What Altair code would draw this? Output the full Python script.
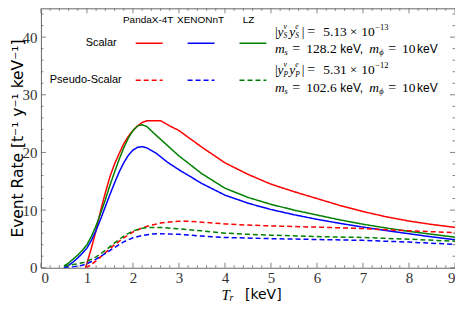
import altair as alt
import pandas as pd

# ---------------- data ----------------
detectors = ["PandaX-4T", "XENONnT", "LZ"]
couplings = ["Scalar", "Pseudo-Scalar"]

pandax_s_x = [0.97, 1.0, 1.1, 1.2, 1.3, 1.4, 1.5, 1.6, 1.7, 1.8, 1.9, 2.0, 2.1, 2.2, 2.3, 2.6, 2.8, 3.0, 3.5, 4.0, 4.5, 5.0, 5.5, 6.0, 6.5, 7.0, 7.5, 8.0, 8.5, 9.0]
pandax_s_y = [0.0, 0.8, 3.5, 6.5, 10.0, 13.0, 15.8, 18.0, 19.8, 21.5, 22.8, 23.8, 24.6, 25.2, 25.5, 25.5, 24.6, 23.8, 20.9, 18.2, 16.2, 14.5, 13.2, 12.0, 10.8, 9.75, 8.85, 8.1, 7.5, 7.0]

xenon_s_x = [0.5, 0.6, 0.7, 0.8, 0.9, 1.0, 1.1, 1.2, 1.3, 1.4, 1.5, 1.6, 1.7, 1.8, 1.9, 2.0, 2.1, 2.2, 2.3, 2.5, 2.75, 3.0, 3.5, 4.0, 4.5, 5.0, 5.5, 6.0, 6.5, 7.0, 7.5, 8.0, 8.5, 9.0]
xenon_s_y = [0.0, 0.4, 1.0, 1.7, 2.5, 3.4, 4.8, 6.5, 8.5, 10.6, 12.7, 14.7, 16.6, 18.2, 19.5, 20.4, 20.9, 21.0, 20.8, 19.9, 18.3, 17.0, 14.6, 12.6, 11.2, 10.1, 9.2, 8.4, 7.7, 7.05, 6.45, 5.9, 5.35, 4.85]

lz_s_x = [0.5, 0.6, 0.7, 0.8, 0.9, 1.0, 1.1, 1.2, 1.3, 1.4, 1.5, 1.6, 1.7, 1.8, 1.9, 2.0, 2.1, 2.2, 2.3, 2.5, 2.75, 3.0, 3.5, 4.0, 4.5, 5.0, 5.5, 6.0, 6.5, 7.0, 7.5, 8.0, 8.5, 9.0]
lz_s_y = [0.3, 0.8, 1.5, 2.2, 3.0, 4.0, 5.5, 7.3, 9.5, 11.8, 14.3, 16.6, 18.8, 20.8, 22.5, 23.8, 24.6, 24.8, 24.5, 23.0, 21.2, 19.4, 16.3, 13.8, 12.2, 11.0, 10.0, 9.15, 8.3, 7.55, 6.9, 6.3, 5.8, 5.3]

pandax_p_x = [0.97, 1.05, 1.2, 1.4, 1.6, 1.8, 2.0, 2.2, 2.4, 2.6, 2.8, 3.0, 3.2, 3.5, 4.0, 4.5, 5.0, 5.5, 6.0, 7.0, 8.0, 9.0]
pandax_p_y = [0.0, 0.3, 1.2, 2.6, 4.0, 5.2, 6.2, 6.9, 7.4, 7.75, 7.95, 8.05, 8.05, 7.9, 7.6, 7.4, 7.25, 7.15, 7.05, 6.8, 6.4, 6.1]

xenon_p_x = [0.5, 0.7, 0.9, 1.0, 1.2, 1.4, 1.6, 1.8, 2.0, 2.2, 2.4, 2.6, 3.0, 3.5, 4.0, 5.0, 6.0, 7.0, 8.0, 9.0]
xenon_p_y = [0.0, 0.15, 0.45, 0.7, 1.5, 2.5, 3.5, 4.5, 5.2, 5.6, 5.85, 5.9, 5.8, 5.5, 5.25, 5.05, 4.9, 4.75, 4.45, 4.05]

lz_p_x = [0.5, 0.7, 0.9, 1.0, 1.2, 1.4, 1.6, 1.8, 2.0, 2.2, 2.4, 2.6, 3.0, 3.5, 4.0, 4.5, 5.0, 6.0, 7.0, 8.0, 9.0]
lz_p_y = [0.3, 0.55, 0.85, 1.1, 1.9, 3.0, 4.3, 5.5, 6.4, 6.85, 7.0, 7.0, 6.75, 6.4, 6.0, 5.8, 5.65, 5.4, 5.25, 4.95, 4.6]

x_major = [0, 1, 2, 3, 4, 5, 6, 7, 8, 9]
y_major = [0, 10, 20, 30, 40]

# ---------------- build table ----------------
series = [
    ("PandaX-4T", "Scalar", pandax_s_x, pandax_s_y),
    ("XENONnT", "Scalar", xenon_s_x, xenon_s_y),
    ("LZ", "Scalar", lz_s_x, lz_s_y),
    ("PandaX-4T", "Pseudo-Scalar", pandax_p_x, pandax_p_y),
    ("XENONnT", "Pseudo-Scalar", xenon_p_x, xenon_p_y),
    ("LZ", "Pseudo-Scalar", lz_p_x, lz_p_y),
]
rows = []
for det, cp, xs_, ys_ in series:
    for xv, yv in zip(xs_, ys_):
        rows.append({"x": xv, "y": yv, "det": det, "cp": cp, "key": det + cp})
df = pd.DataFrame(rows)

x_minor = [round(i * 0.2, 1) for i in range(46) if (i % 5) != 0]
y_minor = [i * 2 for i in range(23) if (i * 2) % 10 != 0]

W, H = 415, 260
PL = 41  # plot left on page
PT = 8   # plot top on page

colors = ["#ff0000", "#0000ff", "#008000"]
dash = [[1, 0], [5, 3]]
FRAME = "#666666"

xs = alt.Scale(domain=[0, 9], nice=False, zero=False)
ys = alt.Scale(domain=[0, 45], nice=False, zero=False)

lines = alt.Chart(df).mark_line(strokeWidth=1.5, clip=True).encode(
    x=alt.X("x:Q", scale=xs, axis=alt.Axis(values=x_major, ticks=False, domain=False, grid=False,
                                            title=None, labelFont="Liberation Serif", labelFontSize=15,
                                            labelColor="#333333", labelPadding=3, format="d")),
    y=alt.Y("y:Q", scale=ys, axis=alt.Axis(values=y_major, ticks=False, domain=False, grid=False,
                                            title="Event Rate [t⁻¹ y⁻¹ keV⁻¹]",
                                            titleFont="DejaVu Sans", titleFontSize=15.5,
                                            titleFontWeight="normal", titleColor="#000000",
                                            titleX=-23, titleY=H / 2, titleAngle=270,
                                            titleAlign="center", titleBaseline="middle",
                                            labelFont="Liberation Serif", labelFontSize=15,
                                            labelColor="#333333", labelPadding=4, format="d")),
    color=alt.Color("det:N", scale=alt.Scale(domain=detectors, range=colors), legend=None),
    strokeDash=alt.StrokeDash("cp:N", scale=alt.Scale(domain=couplings, range=dash), legend=None),
    detail="key:N",
)

layers = [lines]


def xticks(vals, length):
    d = pd.DataFrame({"t": vals})
    b = alt.Chart(d).mark_rule(color=FRAME, strokeWidth=0.8).encode(
        x=alt.X("t:Q", scale=xs), y=alt.value(H), y2=alt.value(H - length))
    t = alt.Chart(d).mark_rule(color=FRAME, strokeWidth=0.8).encode(
        x=alt.X("t:Q", scale=xs), y=alt.value(0), y2=alt.value(length))
    return [b, t]


def yticks(vals, length):
    d = pd.DataFrame({"t": vals})
    l = alt.Chart(d).mark_rule(color=FRAME, strokeWidth=0.8).encode(
        y=alt.Y("t:Q", scale=ys), x=alt.value(0), x2=alt.value(length))
    r = alt.Chart(d).mark_rule(color=FRAME, strokeWidth=0.8).encode(
        y=alt.Y("t:Q", scale=ys), x=alt.value(W), x2=alt.value(W - length))
    return [l, r]


layers += xticks(x_major, 5) + xticks(x_minor, 2.5) + yticks(y_major, 5) + yticks(y_minor, 2.5)


def txt(s, x_abs, y_abs, size=13.5, font="Liberation Serif", style="normal", align="left", color="#000000"):
    return alt.Chart(pd.DataFrame({"s": [s]})).mark_text(
        font=font, fontSize=size, fontStyle=style, align=align, baseline="middle", color=color
    ).encode(text="s:N", x=alt.value(x_abs - PL), y=alt.value(y_abs - PT))


def seg(x1, x2, y_abs, color, dashed):
    kw = {"strokeDash": [5, 3]} if dashed else {}
    return alt.Chart(pd.DataFrame({"a": [0]})).mark_rule(color=color, strokeWidth=1.5, **kw).encode(
        x=alt.value(x1 - PL), x2=alt.value(x2 - PL), y=alt.value(y_abs - PT))


SANS = "Liberation Sans"
# legend header
layers += [
    txt("PandaX-4T", 148.5, 20, size=10, font=SANS, align="center"),
    txt("XENONnT", 201, 20, size=10, font=SANS, align="center"),
    txt("LZ", 249, 20, size=10, font=SANS, align="center"),
    txt("Scalar", 117, 43, size=11, font=SANS, align="right"),
    txt("Pseudo-Scalar", 122, 80, size=11, font=SANS, align="right"),
]
seg_x = [(136, 163), (188, 215), (240, 267)]
for (a, b), c in zip(seg_x, colors):
    layers.append(seg(a, b, 43, c, False))
    layers.append(seg(a, b, 80, c, True))


def coupling_line(y, sub, value, exp):
    return [
        txt("|", 275.5, y),
        txt("y", 278, y, style="italic"),
        txt("ν", 284, y - 5, size=7.5, style="italic"),
        txt(sub, 284, y + 4.5, size=7.5, style="italic"),
        txt("y", 290, y, style="italic"),
        txt("e", 296, y - 5, size=7.5, style="italic"),
        txt(sub, 296, y + 4.5, size=7.5, style="italic"),
        txt("|", 302.5, y),
        txt("=", 308, y, size=14),
        txt(value, 324, y),
        txt("×", 350.5, y),
        txt("10", 362, y),
        txt(exp, 376, y - 5, size=8.5),
    ]


def mass_line(y, ms):
    return [
        txt("m", 275.5, y, style="italic"),
        txt("s", 285, y + 3, size=8.5, style="italic"),
        txt("=", 293, y, size=14),
        txt(ms, 307, y),
        txt("keV,", 341, y, size=12, font=SANS),
        txt("m", 370, y, style="italic"),
        txt("ϕ", 380, y + 3, size=8.5, style="italic"),
        txt("=", 389, y, size=14),
        txt("10", 403, y),
        txt("keV", 418, y, size=12, font=SANS),
    ]


layers += coupling_line(31.7, "S", "5.13", "−13")
layers += mass_line(48.3, "128.2")
layers += coupling_line(70, "P", "5.31", "−12")
layers += mass_line(88.3, "102.6")

# x-axis title
layers += [
    txt("T", 222, 295, size=15, style="italic"),
    txt("r", 230, 298, size=10, style="italic"),
    txt("[keV]", 245.5, 295.5, size=14, font="DejaVu Sans"),
]

chart = alt.layer(*layers).properties(
    width=W, height=H,
    padding={"left": PL - 8, "top": PT - 8, "right": 0, "bottom": 34},
    autosize=alt.AutoSizeParams(type="none"),
).configure_view(stroke=FRAME, strokeWidth=1)

chart.save("out.html", embed_options={"renderer": "svg", "actions": False})
